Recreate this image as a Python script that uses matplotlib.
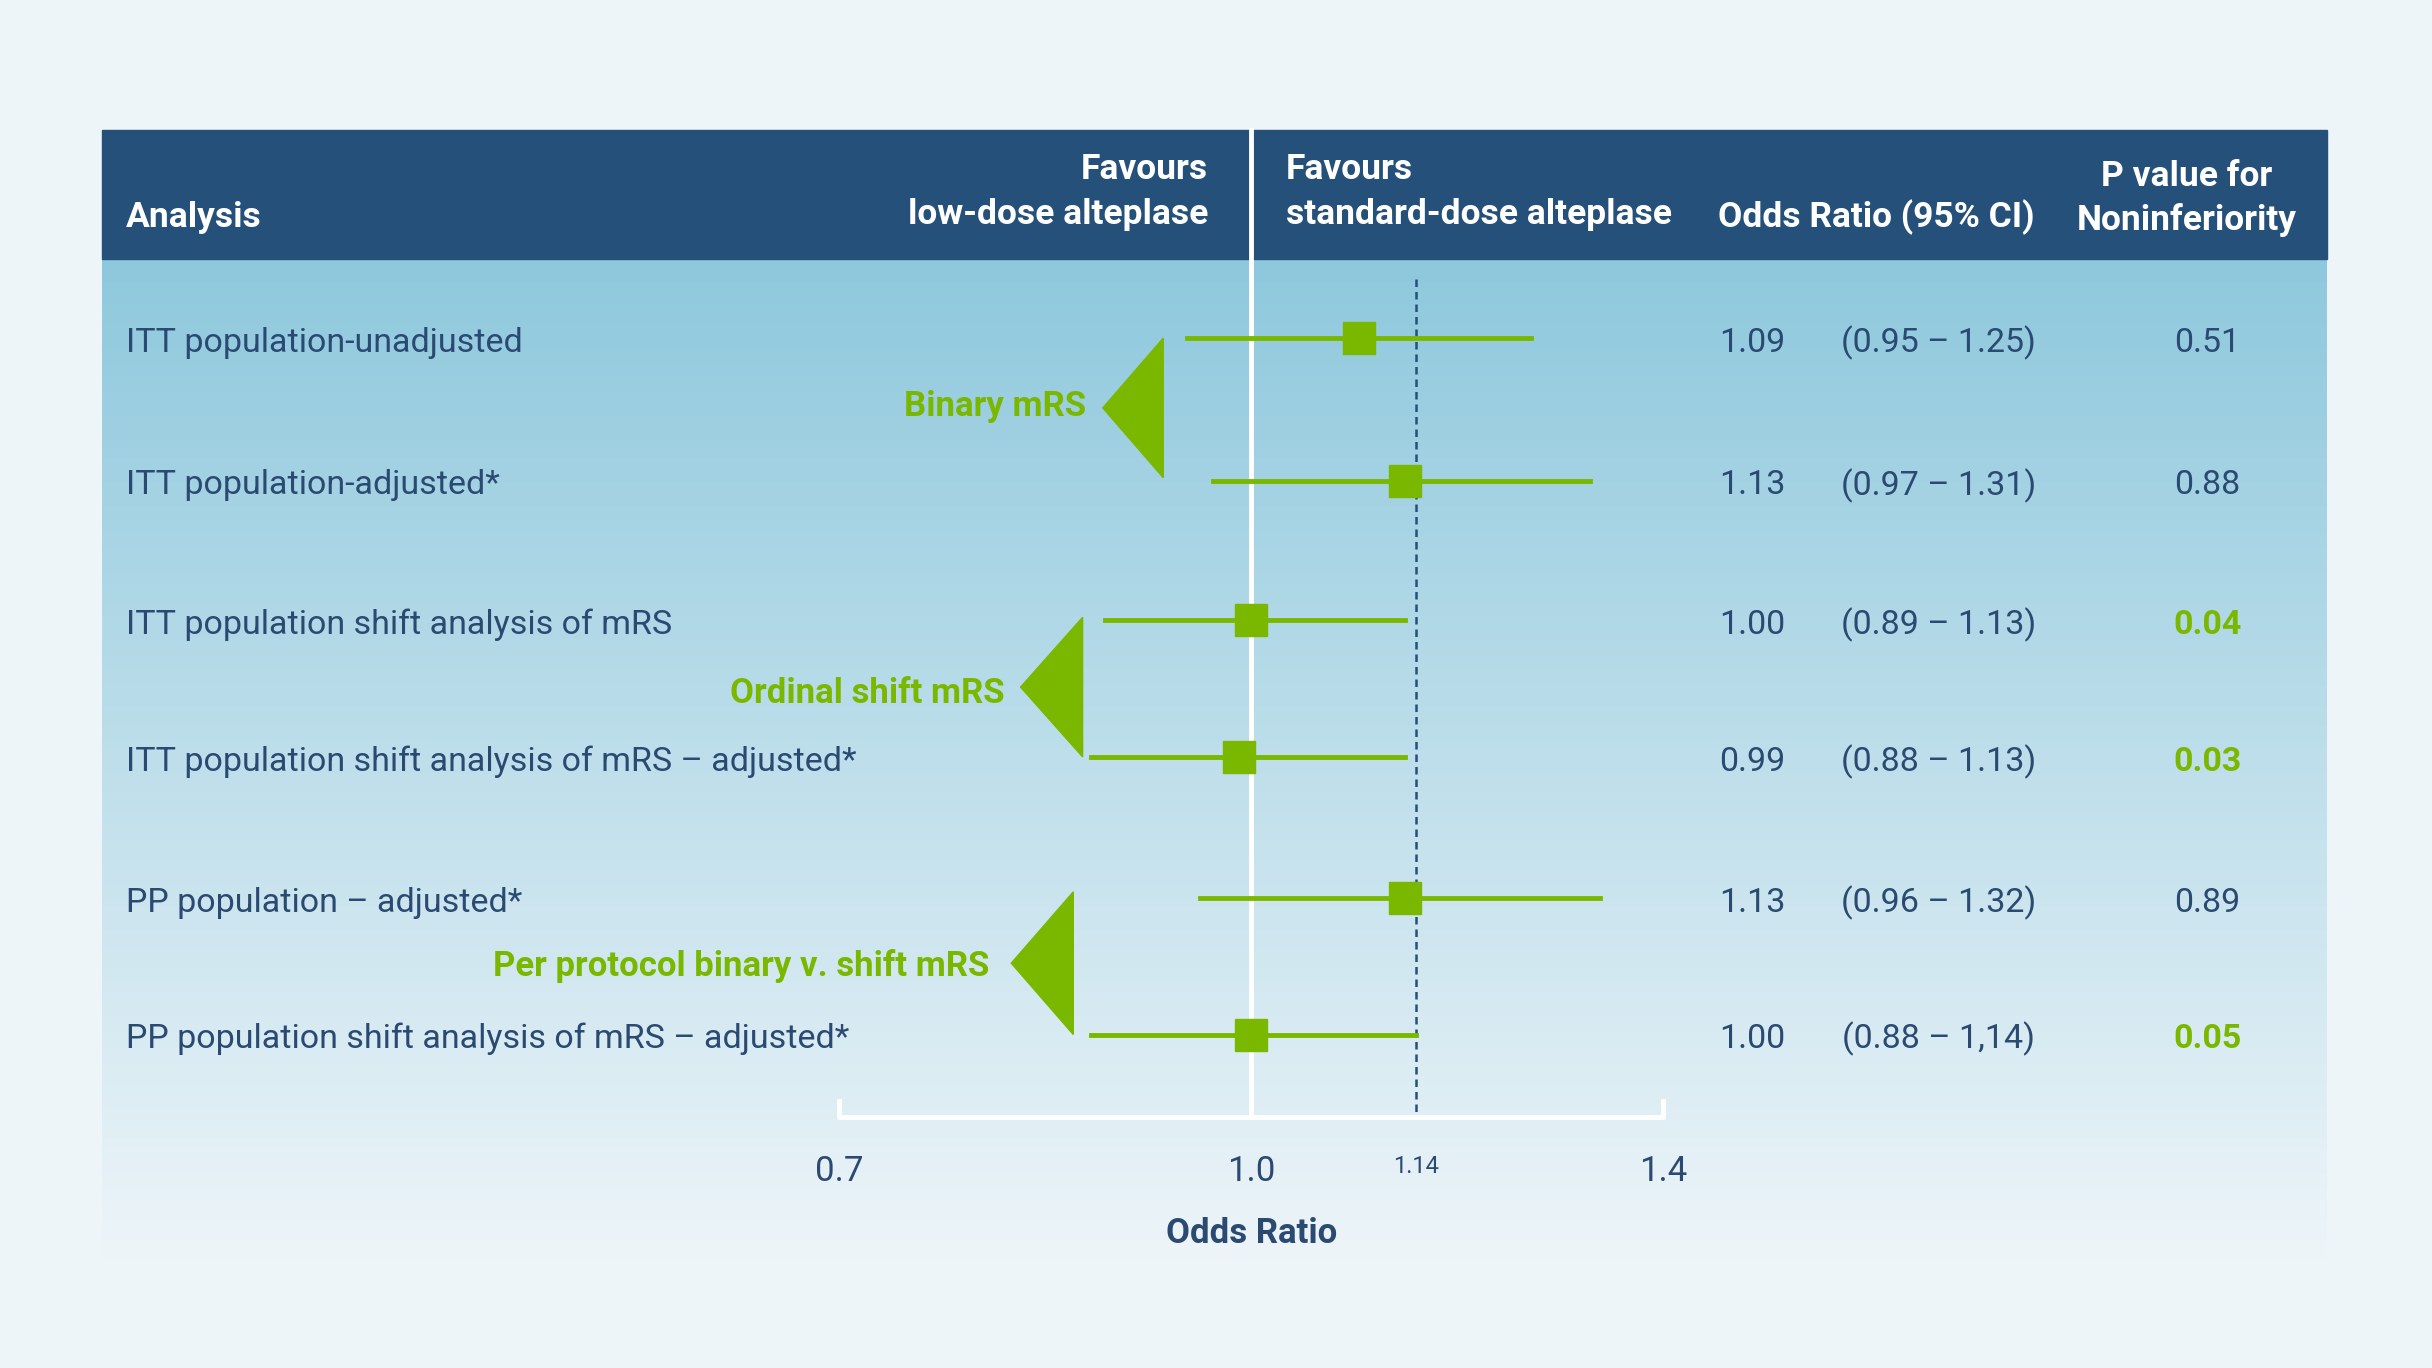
import matplotlib.pyplot as plt
import numpy as np
from matplotlib.patches import Rectangle, Polygon

plt.rcParams['font.family'] = ['Liberation Sans Narrow', 'Roboto', 'DejaVu Sans']

labels = ["ITT population-unadjusted", "ITT population-adjusted*",
          "ITT population shift analysis of mRS",
          "ITT population shift analysis of mRS \u2013 adjusted*",
          "PP population \u2013 adjusted*",
          "PP population shift analysis of mRS \u2013 adjusted*"]
odds = [1.09, 1.13, 1.00, 0.99, 1.13, 1.00]
lo = [0.95, 0.97, 0.89, 0.88, 0.96, 0.88]
hi = [1.25, 1.31, 1.13, 1.13, 1.32, 1.14]
ci_text = ["(0.95 \u2013 1.25)", "(0.97 \u2013 1.31)", "(0.89 \u2013 1.13)",
           "(0.88 \u2013 1.13)", "(0.96 \u2013 1.32)", "(0.88 \u2013 1,14)"]
pvals = ["0.51", "0.88", "0.04", "0.03", "0.89", "0.05"]
p_sig = [False, False, True, True, False, True]
groups = ["Binary mRS", "Ordinal shift mRS", "Per protocol binary v. shift mRS"]
tick_labels = ["0.7", "1.0", "1.4"]
margin = 1.14

row_y = [218, 310, 400, 488, 579, 667]
navy = "#25507a"
txt = "#2b4a72"
green = "#7ab800"

fig = plt.figure(figsize=(24.32, 13.68), dpi=100)
fig.patch.set_facecolor("#eef5f9")
ax0 = fig.add_axes([0, 0, 1, 1])
ax0.set_xlim(0, 1568); ax0.set_ylim(882, 0); ax0.axis("off")

# body gradient
top = np.array([0x8e, 0xc8, 0xdd]) / 255
bot = np.array([0xee, 0xf5, 0xf9]) / 255
t = np.linspace(0, 1, 256)[:, None]
grad = (top * (1 - t) + bot * t)[:, None, :]
ax0.imshow(grad, extent=[66, 1500, 815, 167], aspect="auto", zorder=0)
ax0.add_patch(Rectangle((66, 84), 1434, 83, color=navy, zorder=1))

hk = dict(color="white", fontsize=25.5, fontweight="bold", zorder=3)
ax0.text(81, 140, "Analysis", va="center", ha="left", **hk)
ax0.text(779, 124, "Favours\nlow-dose alteplase", va="center", ha="right", linespacing=1.45, **hk)
ax0.text(829, 124, "Favours\nstandard-dose alteplase", va="center", ha="left", linespacing=1.45, **hk)
ax0.text(1210, 140, "Odds Ratio (95% CI)", va="center", ha="center", **hk)
ax0.text(1410, 128, "P value for\nNoninferiority", va="center", ha="center", linespacing=1.35, **hk)

for i, y in enumerate(row_y):
    ax0.text(81, y + 3, labels[i], va="center", ha="left", fontsize=24.5, color=txt)
    ax0.text(1130, y + 3, f"{odds[i]:.2f}", va="center", ha="center", fontsize=24.5, color=txt)
    ax0.text(1250, y + 3, ci_text[i], va="center", ha="center", fontsize=24.5, color=txt)
    ax0.text(1423, y + 3, pvals[i], va="center", ha="center", fontsize=24.5,
             color=green if p_sig[i] else txt, fontweight="bold" if p_sig[i] else "normal")

# group arrows
tri = [(711, 750, 218, 308, 700, 262), (658, 698, 398, 488, 648, 447),
       (652, 692, 575, 667, 638, 623)]
for g, (tip, base, y1, y2, tx, ty) in zip(groups, tri):
    ax0.add_patch(Polygon([(tip, (y1 + y2) / 2), (base, y1), (base, y2)], color=green, zorder=3))
    ax0.text(tx, ty, g, va="center", ha="right", fontsize=25, fontweight="bold", color=green)

# forest axes (log scale; range as drawn in the original)
x_min, x_max = 0.720, 1.388
ax = fig.add_axes([541 / 1568, 0, (1072 - 541) / 1568, 1])
ax.set_xscale("log")
ax.set_xlim(x_min, x_max); ax.set_ylim(882, 0)
ax.axis("off"); ax.patch.set_alpha(0)
ax.plot([1.0, 1.0], [84, 720], color="white", lw=3.5, clip_on=False, zorder=2)
ax.plot([margin, margin], [180, 720], color=navy, lw=1.8, ls=(0, (3, 2)), clip_on=False, zorder=2)
for i, y in enumerate(row_y):
    ax.plot([lo[i], hi[i]], [y, y], color=green, lw=3.5, clip_on=False, zorder=3)
    ax.plot(odds[i], y, "s", color=green, ms=23, clip_on=False, zorder=4)
ax.plot([x_min, x_min, x_max, x_max], [710, 720, 720, 710], color="white", lw=3.5, clip_on=False, zorder=2)
for v, s in zip([x_min, 1.0, x_max], tick_labels):
    ax.text(v, 755, s, ha="center", va="center", fontsize=25, color=txt)
ax.text(margin, 752, "1.14", ha="center", va="center", fontsize=17, color=txt)
ax.text(1.0, 795, "Odds Ratio", ha="center", va="center", fontsize=25, fontweight="bold", color=txt)

fig.savefig("out.png", dpi=100, facecolor=fig.get_facecolor())
